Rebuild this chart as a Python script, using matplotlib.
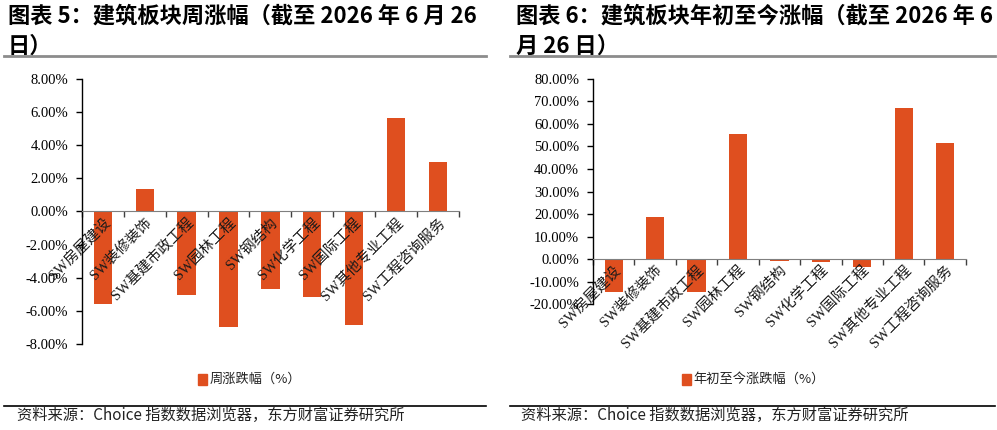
import matplotlib.pyplot as plt
import matplotlib.lines as mlines
import numpy as np

plt.rcParams['font.family'] = ['Liberation Serif', 'Noto Sans CJK SC']

categories = ['SW房屋建设', 'SW装修装饰', 'SW基建市政工程', 'SW园林工程', 'SW钢结构',
              'SW化学工程', 'SW国际工程', 'SW其他专业工程', 'SW工程咨询服务']
week_chg = [-5.58, 1.38, -5.03, -6.97, -4.67, -5.15, -6.85, 5.62, 2.97]
ytd_chg = [-14.7, 18.7, -14.7, 55.6, -0.9, -1.3, -3.4, 67.3, 51.6]

left_ticks = [-8, -6, -4, -2, 0, 2, 4, 6, 8]
right_ticks = [-20, -10, 0, 10, 20, 30, 40, 50, 60, 70, 80]

title_left = '图表 5：建筑板块周涨幅（截至 2026 年 6 月 26\n日）'
title_right = '图表 6：建筑板块年初至今涨幅（截至 2026 年 6\n月 26 日）'
legend_left = '周涨跌幅（%）'
legend_right = '年初至今涨跌幅（%）'
source = '资料来源：Choice 指数数据浏览器，东方财富证券研究所'

bar_color = '#DF4F1F'
cjk = ['Noto Sans CJK SC', 'DejaVu Sans']
serif_cjk = ['Liberation Serif', 'Noto Sans CJK SC']

fig = plt.figure(figsize=(9.97, 4.30), dpi=100)


def panel(rect, values, ticks, leg_text, leg_x):
    ax = fig.add_axes(rect)
    x = np.arange(len(categories))
    ax.bar(x, values, width=0.44, color=bar_color, zorder=1)
    ax.set_xlim(-0.5, len(categories) - 0.5)
    ax.set_ylim(ticks[0], ticks[-1])
    ax.set_yticks(ticks)
    ax.set_yticklabels(['{:.2f}%'.format(t) for t in ticks], fontsize=10.5,
                       family='Liberation Serif')
    ax.spines['top'].set_visible(False)
    ax.spines['right'].set_visible(False)
    ax.spines['bottom'].set_position(('data', 0))
    ax.spines['bottom'].set_color('#7f7f7f')
    ax.spines['left'].set_linewidth(1.0)
    ax.tick_params(axis='y', direction='out', length=4, width=1, pad=6)
    ax.set_xticks(x)
    ax.set_xticklabels(categories, rotation=45, ha='right', va='top',
                       rotation_mode='anchor', fontsize=10.5, family=serif_cjk,
                       color='#1a1a1a')
    ax.tick_params(axis='x', which='major', length=0, pad=3)
    ax.set_xticks(np.arange(len(categories) + 1) - 0.5, minor=True)
    ax.tick_params(axis='x', which='minor', direction='out', length=4,
                   width=1, color='#404040')
    # legend
    fig.patches.append(plt.Rectangle((leg_x, 0.105), 0.009, 0.026,
                                     transform=fig.transFigure,
                                     color=bar_color, figure=fig))
    fig.text(leg_x + 0.011, 0.117, leg_text, fontsize=9.5, family=cjk,
             va='center', ha='left', color='#222222')
    return ax


panel([0.0822, 0.20, 0.378, 0.6163], week_chg, left_ticks, legend_left, 0.199)
panel([0.5948, 0.293, 0.374, 0.5233], ytd_chg, right_ticks, legend_right, 0.684)

# titles
fig.text(0.008, 0.99, title_left, fontsize=16, fontweight='bold', family=cjk,
         va='top', ha='left', linespacing=1.4)
fig.text(0.518, 0.99, title_right, fontsize=16, fontweight='bold', family=cjk,
         va='top', ha='left', linespacing=1.4)

# separator lines
for x0, x1 in [(0.004, 0.487), (0.512, 0.998)]:
    fig.lines.append(mlines.Line2D([x0, x1], [1 - 56 / 430, 1 - 56 / 430],
                                   transform=fig.transFigure, color='#8c8c8c',
                                   linewidth=2))
    fig.lines.append(mlines.Line2D([x0, x1], [1 - 406 / 430, 1 - 406 / 430],
                                   transform=fig.transFigure, color='black',
                                   linewidth=1.2))

fig.text(0.017, 1 - 415 / 430, source, fontsize=11, family=cjk, va='center',
         ha='left', color='#222222')
fig.text(0.523, 1 - 415 / 430, source, fontsize=11, family=cjk, va='center',
         ha='left', color='#222222')

fig.savefig('out.png', dpi=100)
